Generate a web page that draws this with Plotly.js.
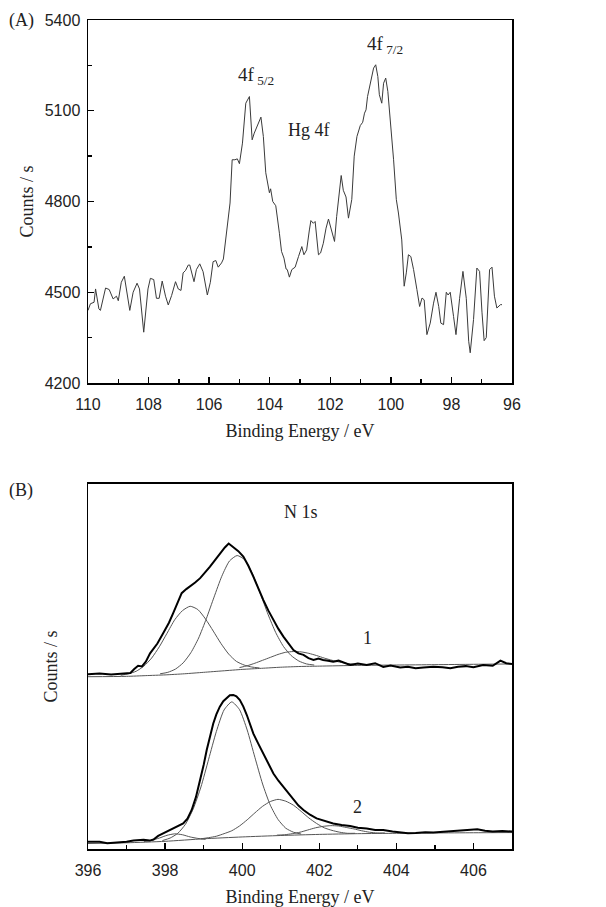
<!DOCTYPE html>
<html><head><meta charset="utf-8">
<script src="https://cdn.plot.ly/plotly-3.0.1.min.js"></script>
<style>body{margin:0;background:#fff}#chart{width:606px;height:907px}</style>
</head><body><div id="chart"></div>
<script>
// Panel A: Hg 4f
const hgBE = [110.0,109.92,109.8,109.75,109.64,109.59,109.42,109.3,109.17,109.06,109.0,108.9,108.8,108.62,108.51,108.38,108.3,108.16,108.02,107.94,107.83,107.74,107.65,107.55,107.44,107.35,107.24,107.11,107.02,106.93,106.86,106.78,106.69,106.64,106.5,106.42,106.31,106.2,106.06,105.96,105.87,105.78,105.7,105.59,105.53,105.42,105.31,105.24,105.15,105.07,105.0,104.9,104.79,104.67,104.58,104.51,104.41,104.29,104.21,104.13,104.01,103.97,103.9,103.8,103.68,103.61,103.53,103.46,103.42,103.35,103.27,103.16,103.05,102.94,102.87,102.78,102.69,102.64,102.56,102.5,102.39,102.32,102.23,102.14,102.06,101.97,101.86,101.79,101.7,101.64,101.57,101.48,101.4,101.29,101.21,101.12,101.01,100.93,100.87,100.82,100.77,100.66,100.57,100.5,100.43,100.38,100.3,100.24,100.17,100.1,100.0,99.91,99.82,99.75,99.64,99.56,99.49,99.42,99.34,99.25,99.14,99.05,98.97,98.9,98.81,98.7,98.59,98.51,98.42,98.35,98.26,98.17,98.11,98.04,97.93,97.85,97.73,97.62,97.51,97.43,97.38,97.27,97.16,97.07,96.99,96.92,96.85,96.74,96.66,96.58,96.5,96.38,96.33];
const hgCounts = [4440,4462,4467,4511,4445,4440,4514,4509,4478,4487,4472,4533,4553,4440,4500,4530,4511,4368,4511,4546,4542,4480,4480,4537,4487,4458,4489,4535,4511,4506,4564,4572,4590,4590,4535,4575,4594,4568,4491,4533,4601,4605,4583,4597,4610,4707,4795,4938,4938,4941,4925,4993,5125,5147,5004,5026,5048,5079,5015,4895,4829,4842,4800,4786,4695,4635,4613,4577,4575,4550,4575,4583,4618,4651,4624,4640,4706,4737,4728,4734,4624,4630,4662,4712,4742,4706,4668,4750,4827,4886,4837,4815,4745,4807,4950,5015,5051,5062,5092,5103,5147,5202,5241,5252,5213,5153,5125,5191,5208,5164,5048,4938,4807,4762,4673,4520,4564,4624,4618,4575,4509,4453,4481,4475,4360,4398,4464,4500,4453,4398,4393,4500,4491,4500,4420,4360,4480,4569,4480,4338,4300,4410,4580,4569,4432,4340,4350,4575,4583,4487,4448,4459,4459];
const hgXTicks = [110,108,106,104,102,100,98,96];
const hgYTicks = [4200,4500,4800,5100,5400];

// Panel B: N 1s, spectrum 1 (upper)
const n1BE = [396.0,396.3,396.6,396.9,397.1,397.2,397.3,397.4,397.5,397.61,397.8,397.95,398.1,398.21,398.32,398.43,398.55,398.65,398.78,398.91,399.04,399.16,399.3,399.42,399.55,399.65,399.77,399.9,400.03,400.16,400.29,400.42,400.55,400.68,400.81,400.94,401.07,401.2,401.33,401.46,401.59,401.72,401.85,401.98,402.1,402.23,402.36,402.5,402.65,402.8,403.0,403.23,403.45,403.66,403.85,404.1,404.3,404.5,404.7,404.96,405.2,405.4,405.6,405.8,406.0,406.25,406.5,406.7,406.85,407.0];
const n1Int = [47.9,48.1,47.8,48.0,48.2,49.3,50.2,50.0,51.3,53.6,56.3,59.1,62.0,64.6,67.6,70.1,71.2,71.9,73.0,74.2,75.7,77.3,79.2,81.0,82.6,83.7,82.8,81.6,80.1,77.6,74.6,71.3,68.2,65.3,62.7,60.3,58.2,56.2,54.5,53.6,53.2,52.3,51.8,52.2,51.8,51.6,51.3,51.6,50.9,50.4,50.8,50.4,50.9,49.9,50.3,49.7,49.9,49.5,49.7,49.9,49.8,49.5,49.9,50.1,49.8,50.4,50.2,51.6,50.9,50.7];
const n1BgBE = [396,397,397.5,398,398.5,399,399.5,400,400.5,401,401.5,402,403,404,405,406,407];
const n1Bg = [47.2,47.3,47.5,47.7,48.0,48.4,48.8,49.2,49.5,49.8,50.0,50.1,50.3,50.4,50.5,50.6,50.7];
const n1aBE = [396.85,397.05,397.25,397.45,397.65,397.85,398.05,398.25,398.45,398.65,398.85,399.05,399.25,399.45,399.65,399.85,400.05,400.25,400.45];
const n1a = [47.6,48.0,48.7,50.1,52.3,55.4,59.1,62.8,65.3,66.5,65.6,63.0,59.7,56.3,53.4,51.4,50.4,49.85,49.6];
const n1bBE = [397.87,398.07,398.27,398.47,398.67,398.87,399.07,399.27,399.47,399.67,399.87,400.07,400.27,400.47,400.67,400.87,401.07,401.27,401.47,401.67,401.87];
const n1b = [48.0,48.4,49.3,51.0,53.8,57.8,63.1,69.0,74.7,78.9,80.4,79.2,75.3,70.0,64.3,59.3,55.5,53.0,51.5,50.7,50.4];
const n1cBE = [399.93,400.13,400.33,400.53,400.73,400.93,401.13,401.33,401.53,401.73,401.93,402.13,402.33,402.53,402.73,402.93];
const n1c = [49.7,50.2,50.9,51.7,52.5,53.3,53.9,54.1,54.0,53.6,53.0,52.3,51.7,51.2,50.8,50.6];

// Panel B: spectrum 2 (lower)
const n2BE = [396.0,396.3,396.5,396.74,397.0,397.18,397.44,397.6,397.7,397.82,397.95,398.08,398.21,398.34,398.47,398.58,398.69,398.8,398.91,399.0,399.08,399.17,399.25,399.33,399.42,399.51,399.6,399.68,399.77,399.85,399.94,400.03,400.12,400.2,400.29,400.42,400.55,400.68,400.81,400.94,401.07,401.2,401.33,401.46,401.59,401.76,401.93,402.15,402.36,402.58,402.8,403.0,403.23,403.45,403.66,403.9,404.1,404.3,404.5,404.75,404.96,405.2,405.4,405.6,405.83,406.1,406.3,406.5,406.75,407.0];
const n2Int = [2.0,2.0,1.6,1.7,2.0,2.3,2.5,2.3,2.6,3.6,4.3,4.9,5.5,6.2,7.0,8.3,10.7,14.2,18.9,23.0,27.1,31.0,34.4,36.9,39.0,40.5,41.5,42.1,42.2,41.8,40.8,39.0,36.7,34.1,31.6,28.8,26.2,23.4,20.7,18.7,17.0,15.1,13.4,11.9,10.7,9.4,8.4,7.6,7.0,6.6,6.3,5.8,5.6,5.2,5.2,4.8,4.5,4.3,4.4,4.6,4.5,4.7,4.8,5.0,5.2,5.4,5.0,4.8,4.9,4.8];
const n2BgBE = [396,397,398,399,400,401,402,403,404,405,406,407];
const n2Bg = [1.5,1.7,2.1,2.8,3.3,3.7,4.0,4.2,4.3,4.4,4.45,4.5];
const n2aBE = [397.93,398.13,398.33,398.53,398.73,398.93,399.13,399.33,399.53,399.73,399.93,400.13,400.33,400.53,400.73,400.93,401.13,401.33,401.53];
const n2a = [2.3,3.0,4.3,6.8,11.0,17.0,24.6,32.2,38.1,40.3,38.2,32.6,25.1,17.8,12.0,8.1,5.7,4.6,4.1];
const n2bBE = [398.93,399.13,399.33,399.53,399.73,399.93,400.13,400.33,400.53,400.73,400.93,401.13,401.33,401.53,401.73,401.93,402.13,402.33,402.53,402.73,402.93];
const n2b = [2.8,3.1,3.5,4.2,5.0,6.3,8.0,9.9,11.7,13.0,13.6,13.1,12.0,10.3,8.5,7.0,5.8,5.1,4.6,4.3,4.3];
const n2cBE = [400.9,401.1,401.3,401.5,401.7,401.9,402.1,402.3,402.5,402.7,402.9,403.1,403.3,403.5,403.7];
const n2c = [3.8,3.9,4.2,4.6,5.2,5.8,6.2,6.4,6.3,5.9,5.5,5.0,4.6,4.4,4.4];
const n2dBE = [397.45,397.65,397.85,398.05,398.25,398.45,398.65,398.85,399.05];
const n2d = [2.0,2.4,3.0,3.75,4.15,3.9,3.3,2.9,2.65];
const nXTicks = [396,398,400,402,404,406];

const serif = '"Liberation Serif","Times New Roman",serif';
const sans = '"Liberation Sans",Arial,sans-serif';
const thin = {color:'#555', width:1, shape:'spline', smoothing:0.6};

function tr(x, y, xa, ya, line){ return {x:x, y:y, xaxis:xa, yaxis:ya, type:'scatter', mode:'lines', line:line, hoverinfo:'skip', showlegend:false}; }

const data = [
  tr(hgBE, hgCounts, 'x', 'y', {color:'#3a3a3a', width:1}),
  tr(n1BgBE, n1Bg, 'x2', 'y2', thin),
  tr(n1aBE, n1a, 'x2', 'y2', thin),
  tr(n1bBE, n1b, 'x2', 'y2', thin),
  tr(n1cBE, n1c, 'x2', 'y2', thin),
  tr(n1BE, n1Int, 'x2', 'y2', {color:'#000', width:2}),
  tr(n2BgBE, n2Bg, 'x2', 'y2', thin),
  tr(n2aBE, n2a, 'x2', 'y2', thin),
  tr(n2bBE, n2b, 'x2', 'y2', thin),
  tr(n2cBE, n2c, 'x2', 'y2', thin),
  tr(n2dBE, n2d, 'x2', 'y2', thin),
  tr(n2BE, n2Int, 'x2', 'y2', {color:'#000', width:2})
];

const axBase = {showline:true, mirror:true, linecolor:'#000', linewidth:1.5, ticks:'inside', ticklen:6, tickwidth:1.3, tickcolor:'#000', showgrid:false, zeroline:false, tickfont:{family:sans, size:16, color:'#222'}};

const layout = {
  width:606, height:907,
  margin:{l:88, r:94, t:20, b:58},
  paper_bgcolor:'#fff', plot_bgcolor:'#fff',
  xaxis: Object.assign({}, axBase, {anchor:'y', domain:[0,1], range:[110,96], tickvals:hgXTicks, ticklabelstandoff:6, minor:{ticks:'inside', dtick:1, ticklen:4, tickcolor:'#000'},
     title:{text:'Binding Energy / eV', font:{family:serif, size:18, color:'#222'}, standoff:12}}),
  yaxis: Object.assign({}, axBase, {anchor:'x', domain:[0.5621,1], range:[4200,5400], tickvals:hgYTicks, ticklabelstandoff:3, minor:{ticks:'inside', dtick:150, ticklen:4, tickcolor:'#000'},
     title:{text:'Counts / s', font:{family:serif, size:18, color:'#222'}, standoff:6}}),
  xaxis2: Object.assign({}, axBase, {anchor:'y2', domain:[0,1], range:[396,407], tickvals:nXTicks, ticklabelstandoff:6, minor:{ticks:'inside', dtick:1, ticklen:4, tickcolor:'#000'},
     title:{text:'Binding Energy / eV', font:{family:serif, size:18, color:'#222'}, standoff:12}}),
  yaxis2: Object.assign({}, axBase, {anchor:'x2', domain:[0,0.4403], range:[0,100], ticks:'', showticklabels:false,
     title:{text:'Counts / s', font:{family:serif, size:18, color:'#222'}, standoff:24}}),
  annotations:[
    {xref:'paper', yref:'paper', x:-0.19, y:1.0, xanchor:'left', yanchor:'middle', text:'(A)', showarrow:false, font:{family:serif, size:18, color:'#222'}},
    {xref:'paper', yref:'paper', x:-0.19, y:0.432, xanchor:'left', yanchor:'middle', text:'(B)', showarrow:false, font:{family:serif, size:18, color:'#222'}},
    {xref:'x', yref:'y', x:104.45, y:5215, text:'4f<sub> 5/2</sub>', showarrow:false, font:{family:serif, size:19, color:'#222'}},
    {xref:'x', yref:'y', x:100.2, y:5318, text:'4f<sub> 7/2</sub>', showarrow:false, font:{family:serif, size:19, color:'#222'}},
    {xref:'x', yref:'y', x:102.7, y:5037, text:'Hg 4f', showarrow:false, font:{family:serif, size:18, color:'#222'}},
    {xref:'x2', yref:'y2', x:401.53, y:92.3, text:'N 1s', showarrow:false, font:{family:serif, size:18, color:'#222'}},
    {xref:'x2', yref:'y2', x:403.24, y:57.8, text:'1', showarrow:false, font:{family:serif, size:18, color:'#222'}},
    {xref:'x2', yref:'y2', x:402.98, y:11.5, text:'2', showarrow:false, font:{family:serif, size:18, color:'#222'}}
  ]
};
Plotly.newPlot('chart', data, layout, {staticPlot:true, displayModeBar:false});
</script></body></html>
